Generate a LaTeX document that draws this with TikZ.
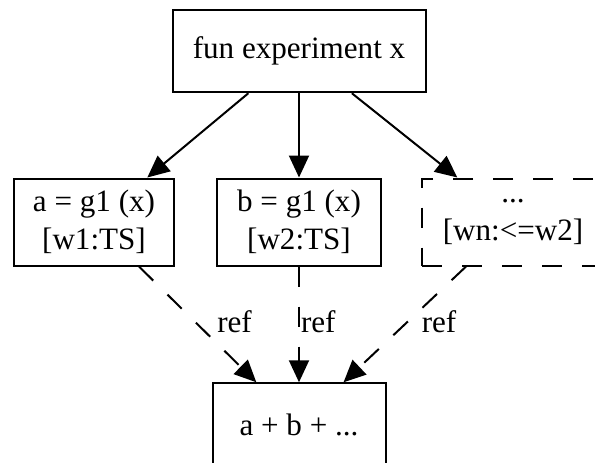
\documentclass[tikz,border=0pt]{standalone}
\usepackage{fontspec}
\setmainfont{Liberation Serif}
\usetikzlibrary{arrows.meta}

\begin{document}
\begin{tikzpicture}[x=1pt, y=-1pt, font=\fontsize{31.1}{38}\selectfont,
	box/.style={draw, line width=2pt, inner sep=0pt, align=center},
	link/.style={line width=2pt, -{Triangle[length=22pt, width=20pt]}},
	reflink/.style={link, dash pattern=on 20pt off 20pt},
	lbl/.style={inner sep=0pt, anchor=west}]
	\useasboundingbox (0, 0) rectangle (595, 463);
	\clip (0, 0) rectangle (595, 463);
	% Nodes:
	\node[box, minimum width=253pt, minimum height=82.5pt](fun) at (299, 51){fun experiment x};
	\node[box, minimum width=160pt, minimum height=87pt](ga) at (94, 222){a = g1 (x)\\{}[w1:TS]};
	\node[box, minimum width=164pt, minimum height=87pt](gb) at (299, 222){b = g1 (x)\\{}[w2:TS]};
	\node[box, dash pattern=on 20pt off 20pt, minimum width=182pt, minimum height=87pt](gn) at (513, 222){...\\{}[wn:<=w2]};
	\node[box, minimum width=173pt, minimum height=82.5pt](sum) at (299, 424.5){a + b + ...};
	% Edges:
	\draw[link] (fun) -- (ga);
	\draw[link] (fun) -- (gb);
	\draw[link] (fun) -- (gn);
	\draw[reflink] (ga) -- node[lbl, pos=0.48, xshift=21pt](refa){ref} (sum);
	\draw[reflink] (gb) -- node[lbl, pos=0.48, xshift=1pt](refb){ref} (sum);
	\draw[reflink] (gn) -- node[lbl, pos=0.48, xshift=13.5pt](refn){ref} (sum);
\end{tikzpicture}
\end{document}
